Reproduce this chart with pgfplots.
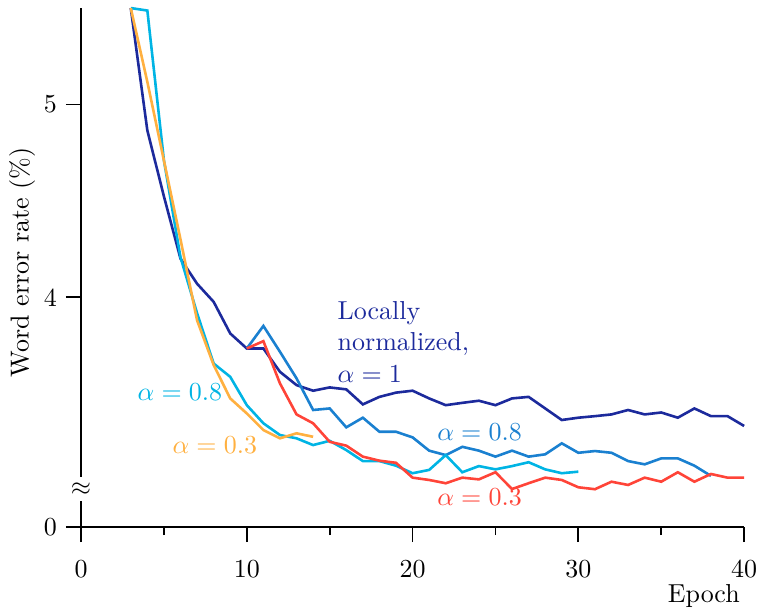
\documentclass[border=0pt]{standalone}
\usepackage{pgfplots}
\pgfplotsset{compat=1.18}
\definecolor{cnavy}{HTML}{1C2A9C}
\definecolor{cmid}{HTML}{1A80D0}
\definecolor{ccyan}{HTML}{00B4E4}
\definecolor{cred}{HTML}{FF4438}
\definecolor{corange}{HTML}{FFB040}

\pgfplotstableread{
x y
3 5.50
4 4.865
5 4.523
6 4.20
7 4.07
8 3.976
9 3.812
10 3.734
11 3.734
12 3.613
13 3.544
14 3.515
15 3.532
16 3.522
17 3.444
18 3.483
19 3.505
20 3.515
21 3.475
22 3.440
23 3.452
24 3.463
25 3.440
26 3.475
27 3.483
28 3.423
29 3.363
30 3.375
31 3.383
32 3.392
33 3.415
34 3.392
35 3.402
36 3.375
37 3.423
38 3.383
39 3.383
40 3.332
}\navy

\pgfplotstableread{
x y
10 3.734
11 3.851
12 3.717
13 3.579
14 3.415
15 3.423
16 3.325
17 3.375
18 3.302
19 3.302
20 3.273
21 3.204
22 3.181
23 3.224
24 3.204
25 3.173
26 3.204
27 3.173
28 3.185
29 3.242
30 3.193
31 3.202
32 3.193
33 3.150
34 3.133
35 3.164
36 3.164
37 3.126
38 3.073
}\midblue

\pgfplotstableread{
x y
10 3.734
11 3.772
12 3.553
13 3.392
14 3.346
15 3.250
16 3.230
17 3.173
18 3.152
19 3.141
20 3.064
21 3.052
22 3.035
23 3.064
24 3.055
25 3.092
26 3.005
27 3.035
28 3.064
29 3.052
30 3.014
31 3.004
32 3.043
33 3.026
34 3.064
35 3.043
36 3.092
37 3.043
38 3.083
39 3.064
40 3.064
}\red

\pgfplotstableread{
x y
3 5.50
4 5.487
5 4.71
6 4.207
7 3.917
8 3.656
9 3.587
10 3.440
11 3.346
12 3.285
13 3.268
14 3.233
15 3.255
16 3.207
17 3.150
18 3.150
19 3.126
20 3.087
21 3.104
22 3.181
23 3.092
24 3.124
25 3.107
26 3.124
27 3.144
28 3.107
29 3.087
30 3.095
}\cyan

\pgfplotstableread{
x y
3 5.50
4 5.117
5 4.709
6 4.30
7 3.88
8 3.648
9 3.475
10 3.397
11 3.311
12 3.268
13 3.294
14 3.276
}\orange

\begin{document}
\begin{tikzpicture}
\begin{axis}[name=ax, scale only axis, width=255.3pt, height=199.8pt,
  xmin=0, xmax=40, ymin=2.808, ymax=5.5,
  axis x line*=bottom, axis y line*=left,
  axis line style={line width=0.7pt, -},
  tick align=outside, major tick length=5.8pt, minor tick length=3.1pt,
  every tick/.style={line width=0.7pt, black},
  xtick={0,10,20,30,40}, minor xtick={5,15,25,35},
  xticklabel style={yshift=-3.8pt},
  ytick={2.808,4,5}, yticklabels={0,4,5},
  ylabel={Word error rate (\%)},
  ylabel style={at={(axis description cs:-0.089,0.51)}, anchor=center},
  clip=false,
]
\addplot[cnavy, line width=1pt] table {\navy};
\addplot[cmid, line width=1pt] table {\midblue};
\addplot[ccyan, line width=1pt] table {\cyan};
\addplot[cred, line width=1pt] table {\red};
\addplot[corange, line width=1pt] table {\orange};

\node[fill=white, inner xsep=0.5pt, inner ysep=0pt, minimum height=9.3pt] at (axis cs:0,3.005) {$\approx$};

\node[anchor=north west, align=left, inner sep=0, text=cnavy] at (axis cs:15.45,3.979) {Locally\\normalized,\\$\alpha=1$};
\node[anchor=base west, inner sep=0, text=ccyan] at (axis cs:3.38,3.466) {$\alpha = 0.8$};
\node[anchor=base west, inner sep=0, text=corange] at (axis cs:5.49,3.19) {$\alpha = 0.3$};
\node[anchor=base west, inner sep=0, text=cmid] at (axis cs:21.46,3.259) {$\alpha = 0.8$};
\node[anchor=base west, inner sep=0, text=cred] at (axis cs:21.46,2.922) {$\alpha = 0.3$};
\node[anchor=base east, inner sep=0, xshift=-1.5pt, yshift=-28.9pt] at (rel axis cs:1,0) {Epoch};
\end{axis}
\pgfresetboundingbox
\path[use as bounding box] ([xshift=-31.2pt,yshift=-33.1pt]ax.south west) rectangle ([xshift=6.5pt,yshift=3.1pt]ax.north east);
\end{tikzpicture}
\end{document}
